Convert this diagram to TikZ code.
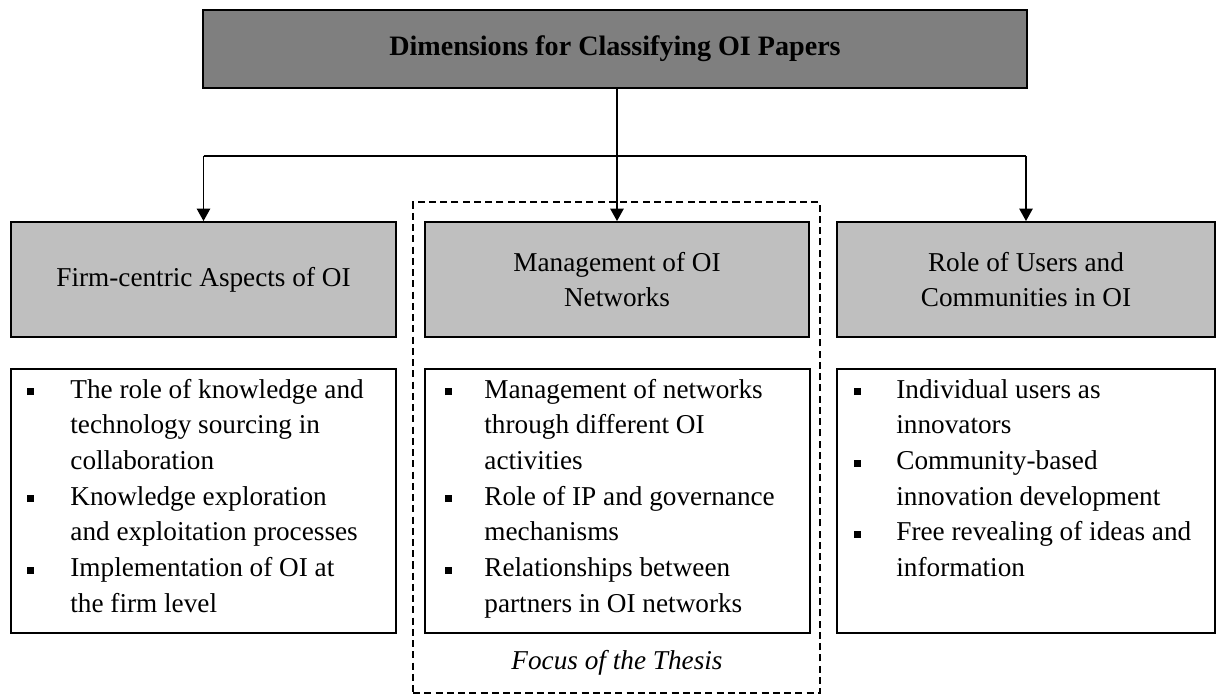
\documentclass[tikz,border=0pt]{standalone}
\usepackage{fontspec}
\setmainfont{Liberation Serif}
\usetikzlibrary{arrows.meta}

\definecolor{headgray}{RGB}{127,127,127}
\definecolor{dimgray}{RGB}{191,191,191}

\newcommand{\sqbul}{\rule[1.6pt]{0.14cm}{0.14cm}}

\tikzset{
  headbox/.style={draw, line width=1.1pt, fill=headgray, minimum width=16.48cm,
    minimum height=1.56cm, font=\fontsize{16}{20}\selectfont\bfseries},
  dimbox/.style={draw, line width=1.1pt, fill=dimgray, minimum height=2.3cm,
    align=center, font=\fontsize{15.5}{20.3}\selectfont},
  listbox/.style={draw, line width=1.1pt, fill=white, minimum height=5.28cm},
  itemtext/.style={inner sep=0pt, anchor=base west, font=\fontsize{15.5}{20.3}\selectfont},
  focusframe/.style={draw, line width=1pt, dash pattern=on 4pt off 2.4pt,
    minimum width=8.14cm, minimum height=9.82cm},
  link/.style={line width=0.8pt},
  arrowlink/.style={link, -{Triangle[width=0.27cm,length=0.25cm]}}
}

\begin{document}
\begin{tikzpicture}[x=0.02cm, y=-0.02cm]
  \useasboundingbox (0,0) rectangle (1217,695);

  % focus frame round the middle column
  \node [focusframe] (focus) at (616.5,447.5) {};
  \node [font=\fontsize{15.5}{20.3}\selectfont\itshape] (focuslbl) at (617,663) {Focus of the Thesis};

  % top box
  \node [headbox] (head) at (615,49) {Dimensions for Classifying OI Papers};

  % dimensions
  \node [dimbox, minimum width=7.7cm] (firm) at (203.5,279.5) {Firm-centric Aspects of OI};
  \node [dimbox, minimum width=7.68cm] (netw) at (617,279.5) {Management of OI\\Networks};
  \node [dimbox, minimum width=7.56cm] (users) at (1026,279.5) {Role of Users and\\Communities in OI};

  % boxes with the topics
  \node [listbox, minimum width=7.7cm] (firmitems) at (203.5,501) {};
  \node [listbox, minimum width=7.7cm] (netwitems) at (617.5,501) {};
  \node [listbox, minimum width=7.56cm] (useritems) at (1026,501) {};

  \node [itemtext] (firmlist) at ([shift={(0.34cm,-0.6cm)}]firmitems.north west) {%
    \begin{tabular}[t]{@{}p{0.86cm}@{}l@{}}
      \sqbul & The role of knowledge and\\
             & technology sourcing in\\
             & collaboration\\
      \sqbul & Knowledge exploration\\
             & and exploitation processes\\
      \sqbul & Implementation of OI at\\
             & the firm level
    \end{tabular}};
  \node [itemtext] (netwlist) at ([shift={(0.42cm,-0.6cm)}]netwitems.north west) {%
    \begin{tabular}[t]{@{}p{0.78cm}@{}l@{}}
      \sqbul & Management of networks\\
             & through different OI\\
             & activities\\
      \sqbul & Role of IP and governance\\
             & mechanisms\\
      \sqbul & Relationships between\\
             & partners in OI networks
    \end{tabular}};
  \node [itemtext] (userlist) at ([shift={(0.36cm,-0.6cm)}]useritems.north west) {%
    \begin{tabular}[t]{@{}p{0.84cm}@{}l@{}}
      \sqbul & Individual users as\\
             & innovators\\
      \sqbul & Community-based\\
             & innovation development\\
      \sqbul & Free revealing of ideas and\\
             & information
    \end{tabular}};

  % connectors
  \coordinate (fork) at (617,156);
  \draw [arrowlink] (head.south -| netw.north) -- (netw.north);
  \draw [link] (fork -| firm.north) -- (fork -| users.north);
  \draw [arrowlink] (fork -| firm.north) -- (firm.north);
  \draw [arrowlink] (fork -| users.north) -- (users.north);
\end{tikzpicture}
\end{document}
